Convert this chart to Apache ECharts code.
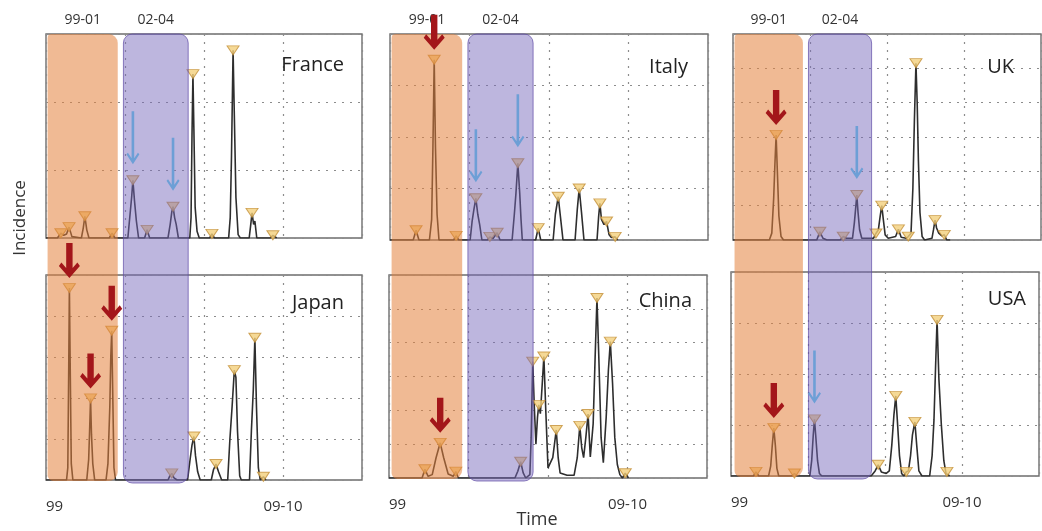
<!DOCTYPE html>
<html lang="en">
<head>
    <meta charset="UTF-8">
    <script type="text/javascript" src="https://cdn.jsdelivr.net/npm/echarts@6/dist/echarts.min.js"></script>
    <title>Incidence</title>
    <style>
        html, body {margin: 0; padding: 0; background: #fff;}
        #main {width: 1042px; height: 531px;}
    </style>
</head>
<body>
<div id="main"></div>
<script type="text/javascript">

    // time runs 0..100 across every panel, values in grid units
    var timeLabels = {0: '99', 75: '09-10'};
    var bandNames = ['99-01', '02-04'];
    var bandRanges = [[0.5, 22.7], [24.5, 45]];

    var franceCurve = [[0,0],[3.6,0],[4.7,0.07],[5.6,0.04],[6.5,0.06],[7.3,0.16],[8.2,0.02],[11.2,0],[11.8,0.15],[12.3,0.32],[12.9,0.12],[13.6,0],[20.0,0],[20.9,0.07],[21.8,0],[25.9,0],[26.6,0.35],[27.1,0.6],[27.5,0.85],[28.0,0.55],[28.6,0.25],[29.3,0],[31.2,0],[32,0.12],[32.8,0],[38.6,0],[39.3,0.2],[39.8,0.38],[40.2,0.46],[40.7,0.3],[41.2,0.2],[41.9,0],[45.5,0],[45.9,0.3],[46.2,1.5],[46.5,2.41],[46.8,1.6],[47.2,0.45],[47.8,0.1],[48.5,0],[51.8,0],[52.5,0.06],[53.3,0],[57.8,0],[58.3,0.3],[58.7,1.2],[59.2,2.76],[59.6,1.8],[60.1,0.6],[60.8,0.05],[61.5,0],[64.3,0],[64.8,0.2],[65.2,0.37],[65.7,0.2],[66.1,0.25],[66.7,0],[71,0],[71.8,0.04],[73,0]];
    var franceMarks = [4.7, 7.3, 12.3, 20.9, 27.5, 32, 40.2, 46.5, 52.5, 59.2, 65.2, 71.8];
    var franceRed = [];
    var franceBlue = [27.5, 40.2];

    var japanCurve = [[0,0],[6.5,0],[6.9,0.3],[7.2,2.8],[7.4,4.68],[7.7,2.5],[8.0,0.4],[8.5,0],[12.9,0],[13.5,0.5],[13.8,1.2],[14.1,1.99],[14.4,1.1],[14.8,0.4],[15.4,0],[19,0],[19.6,0.4],[20.2,1.8],[20.5,3.0],[20.8,3.64],[21.1,2.2],[21.5,0.3],[22,0],[38.6,0],[39.2,0.1],[39.8,0.16],[40.5,0.05],[41.5,0],[44.8,0],[45.6,0.5],[46.2,0.85],[46.8,1.06],[47.3,0.6],[48,0.2],[48.8,0],[52.3,0],[53.0,0.25],[53.8,0.39],[54.6,0.2],[55.6,0],[57.5,0],[58.2,1.0],[58.9,1.8],[59.6,2.68],[60.1,2.5],[60.6,1.2],[61.3,0.1],[61.8,0],[64.4,0],[65.0,1.2],[65.6,2.2],[66.1,3.47],[66.6,1.8],[67.2,0.3],[67.8,0],[68.8,0.08],[69.6,0]];
    var japanMarks = [7.4, 14.1, 20.8, 39.8, 46.8, 53.8, 59.6, 66.1, 68.8];
    var japanRed = [7.4, 14.1, 20.8];
    var japanBlue = [];

    var italyCurve = [[0,0],[7.3,0],[8.2,0.19],[9.1,0],[12.4,0],[13.1,0.4],[13.5,1.8],[13.9,3.5],[14.3,1.8],[14.8,0.5],[15.4,0],[20,0],[20.8,0.08],[21.6,0],[25.2,0],[25.8,0.35],[26.4,0.6],[27.0,0.81],[27.6,0.5],[28.2,0.3],[28.9,0],[30.6,0],[31.4,0.06],[32.4,0.03],[33.7,0.14],[34.6,0],[38.4,0],[39.1,0.5],[39.6,0.9],[40.2,1.49],[40.8,0.9],[41.2,0.4],[41.6,0],[45.8,0],[46.6,0.23],[47.4,0],[51.3,0],[52.0,0.5],[52.9,0.84],[53.6,0.45],[54.4,0],[58.2,0],[58.9,0.6],[59.5,1.0],[60.2,0.55],[61,0],[65.1,0],[65.6,0.45],[66,0.71],[66.5,0.4],[67.3,0.3],[68.1,0.36],[68.9,0.1],[69.6,0.05],[70.8,0.06],[71.6,0]];
    var italyMarks = [8.2, 13.9, 20.8, 27.0, 31.4, 33.7, 40.2, 46.6, 52.9, 59.5, 66, 68.1, 70.8];
    var italyRed = [13.9];
    var italyBlue = [27.0, 40.2];

    var chinaCurve = [[0,0],[10.4,0],[11.3,0.26],[12.3,0.05],[13.6,0.1],[14.8,0.6],[16.1,1.04],[17.2,0.6],[18.6,0.12],[20.2,0.05],[21.0,0.19],[21.8,0],[39.6,0],[40.5,0.2],[41.4,0.48],[42.2,0.15],[43,0],[44.3,0.1],[44.7,1.2],[45.2,3.44],[45.7,2.1],[46.2,1.0],[46.7,1.8],[47.1,2.16],[47.6,1.9],[48.2,2.8],[48.7,3.59],[49.3,2.0],[50,0.3],[51.5,0.6],[52.6,1.42],[53.2,0.6],[53.8,0.15],[56,0.08],[58.2,0.08],[59.2,0.6],[60,1.54],[60.6,0.9],[61.2,0.6],[61.9,1.2],[62.6,1.89],[63.3,0.62],[64.2,1.6],[64.8,3.5],[65.4,5.32],[66,3.5],[66.7,1.2],[67.4,0.45],[68.3,1.8],[69,3.2],[69.6,4.03],[70.3,2.8],[71,1.2],[71.8,0.4],[72.6,0.1],[73.4,0],[74.3,0.14],[75.3,0]];
    var chinaMarks = [11.3, 16.1, 21.0, 41.4, 45.2, 47.1, 48.7, 52.6, 60, 62.6, 65.4, 69.6, 74.3];
    var chinaRed = [16.1];
    var chinaBlue = [];

    var ukCurve = [[0,0],[11.8,0],[12.6,0.2],[13.2,1.2],[13.6,2.2],[14.0,3.06],[14.4,2.0],[14.9,0.7],[15.6,0.1],[16.4,0],[27.2,0],[28.2,0.24],[29.2,0.05],[30.5,0],[34.8,0],[35.8,0.1],[36.8,0.05],[38.8,0.05],[39.4,0.5],[39.8,0.9],[40.2,1.31],[40.6,0.8],[41.1,0.3],[41.8,0.05],[45.6,0.05],[46.4,0.19],[47.2,0.3],[47.8,0.7],[48.3,1.0],[48.8,0.6],[49.4,0.15],[50.4,0.05],[52.8,0.1],[53.7,0.31],[54.6,0.08],[56.2,0.05],[56.9,0.1],[57.8,0.2],[58.4,1.5],[58.9,3.5],[59.4,5.15],[59.8,4.0],[60.2,2.3],[60.7,0.8],[61.4,0.1],[62.2,0],[64.6,0.05],[65.1,0.3],[65.6,0.58],[66.1,0.35],[66.8,0.2],[67.8,0.12],[68.6,0.15],[69.4,0],[70.5,0]];
    var ukMarks = [14.0, 28.2, 35.8, 40.2, 46.4, 48.3, 53.7, 56.9, 59.4, 65.6, 68.6];
    var ukRed = [14.0];
    var ukBlue = [40.2];

    var usaCurve = [[0,0],[7.3,0],[8.1,0.08],[9,0],[12.2,0],[12.9,0.2],[13.4,0.6],[13.9,0.94],[14.4,0.6],[14.9,0.15],[15.5,0],[19.8,0],[20.6,0.05],[21.4,0],[25.6,0],[26.2,0.3],[26.7,0.8],[27.1,1.11],[27.5,0.8],[28.1,0.3],[28.7,0.05],[29.5,0],[45.5,0],[46.8,0.1],[47.8,0.22],[48.8,0.08],[50.4,0.05],[51.4,0.1],[52.2,0.6],[52.9,1.2],[53.5,1.57],[54.0,1.1],[54.7,0.4],[55.4,0.05],[56.1,0],[56.9,0.08],[57.6,0.1],[58.3,0.4],[58.9,0.8],[59.7,1.06],[60.3,0.6],[61,0.1],[62,0],[64.5,0],[65.3,0.4],[65.9,1.1],[66.4,2.1],[66.9,3.06],[67.5,1.9],[68.3,1.0],[69.1,0.3],[69.8,0.05],[70.1,0.08],[71,0]];
    var usaMarks = [8.1, 13.9, 20.6, 27.1, 47.8, 53.5, 56.9, 59.7, 66.9, 70.1];
    var usaRed = [13.9];
    var usaBlue = [27.1];

    // layout of the six boxes (column by column, top then bottom)
    var panels = [
        {name: 'France', curve: franceCurve, marks: franceMarks, red: franceRed, blue: franceBlue, yMax: 3, box: [46, 34, 316, 204], label: [344, 65], bottom: false},
        {name: 'Japan', curve: japanCurve, marks: japanMarks, red: japanRed, blue: japanBlue, yMax: 5, box: [46, 275, 316, 205], label: [344, 303], bottom: true},
        {name: 'Italy', curve: italyCurve, marks: italyMarks, red: italyRed, blue: italyBlue, yMax: 4, box: [390, 34, 318, 206], label: [688, 67], bottom: false},
        {name: 'China', curve: chinaCurve, marks: chinaMarks, red: chinaRed, blue: chinaBlue, yMax: 6, box: [389, 275, 318, 203], label: [692, 301], bottom: true},
        {name: 'UK', curve: ukCurve, marks: ukMarks, red: ukRed, blue: ukBlue, yMax: 6, box: [733, 34, 308, 206], label: [1014, 67], bottom: false},
        {name: 'USA', curve: usaCurve, marks: usaMarks, red: usaRed, blue: usaBlue, yMax: 4, box: [731, 272, 310, 204], label: [1026, 299], bottom: true}
    ];

    var FONT = '"Open Sans", "Liberation Sans", sans-serif';
    var dotted = {type: [2, 6], width: 1.2, color: '#8c8c8c'};

    function valueAt(curve, t) {
        for (var k = 0; k < curve.length; k++) {
            if (curve[k][0] === t) return curve[k][1];
        }
        return 0;
    }

    var grids = [], xAxes = [], yAxes = [], series = [];
    panels.forEach(function (p, i) {
        grids.push({
            left: p.box[0], top: p.box[1], width: p.box[2], height: p.box[3],
            show: true, borderColor: '#6e6e6e', borderWidth: 1.4, backgroundColor: '#fff'
        });
        xAxes.push({
            type: 'value', gridIndex: i, min: 0, max: 100, interval: 25,
            axisLine: {show: false}, axisTick: {show: false},
            splitLine: {show: true, lineStyle: dotted},
            axisLabel: {
                show: p.bottom, margin: 19, fontSize: 15, color: '#333', fontFamily: FONT,
                alignMinLabel: 'left',
                formatter: function (v) { return timeLabels[v] || ''; }
            }
        });
        yAxes.push({
            type: 'value', gridIndex: i, min: 0, max: p.yMax, interval: 1,
            axisLine: {show: false}, axisTick: {show: false}, axisLabel: {show: false},
            splitLine: {show: true, lineStyle: dotted}
        });
        series.push({
            type: 'line', xAxisIndex: i, yAxisIndex: i, data: p.curve,
            showSymbol: false, symbol: 'none', z: 2,
            lineStyle: {color: '#2e2e2e', width: 1.6}
        });
        series.push({
            type: 'scatter', xAxisIndex: i, yAxisIndex: i, z: 3,
            data: p.marks.map(function (t) { return [t, valueAt(p.curve, t)]; }),
            symbol: 'triangle', symbolRotate: 180, symbolSize: [12, 9],
            itemStyle: {color: '#f2d07c', borderColor: '#c4913a', borderWidth: 1}
        });
    });

    var myChart = echarts.init(document.getElementById('main'));
    myChart.setOption({
        animation: false,
        backgroundColor: '#fff',
        grid: grids,
        xAxis: xAxes,
        yAxis: yAxes,
        series: series
    });

    // bands, arrows and texts sit over the plot
    var graphics = [];
    var bandFill = ['rgba(228,130,60,0.55)', 'rgba(118,102,186,0.48)'];
    var bandStroke = [null, 'rgba(95,75,165,0.7)'];

    for (var c = 0; c < 3; c++) {
        var up = 2 * c, low = 2 * c + 1;
        var yTop = myChart.convertToPixel({gridIndex: up}, [0, panels[up].yMax])[1];
        var yBot = myChart.convertToPixel({gridIndex: low}, [0, 0])[1];
        bandRanges.forEach(function (r, b) {
            var x0 = myChart.convertToPixel({gridIndex: up}, [r[0], 0])[0];
            var x1 = myChart.convertToPixel({gridIndex: up}, [r[1], 0])[0];
            graphics.push({
                type: 'rect', z: 10,
                shape: {x: x0, y: yTop, width: x1 - x0, height: yBot - yTop + (b ? 3 : 1), r: b ? 9 : [4, 9, 9, 6]},
                style: {fill: bandFill[b], stroke: bandStroke[b], lineWidth: 1}
            });
            graphics.push({
                type: 'text', z: 12, x: (x0 + x1) / 2, y: 20,
                style: {text: bandNames[b], fontSize: 14, fontFamily: FONT, fill: '#333', align: 'center', verticalAlign: 'middle'}
            });
        });
    }

    function arrow(x, y, big) {
        var pts = big
            ? [[0,0],[10.5,-12],[8,-15.5],[3.2,-10],[3.2,-35],[-3.2,-35],[-3.2,-10],[-8,-15.5],[-10.5,-12]]
            : [[0,0],[6.5,-10],[5,-11.5],[1.3,-6],[1.3,-53],[-1.3,-53],[-1.3,-6],[-5,-11.5],[-6.5,-10]];
        return {
            type: 'polygon', z: 20,
            shape: {points: pts.map(function (q) { return [x + q[0], y + q[1]]; })},
            style: {fill: big ? '#a3161a' : '#6d9fd6'}
        };
    }

    panels.forEach(function (p, i) {
        p.red.forEach(function (t) {
            var px = myChart.convertToPixel({gridIndex: i}, [t, valueAt(p.curve, t)]);
            graphics.push(arrow(px[0], px[1] - 10, true));
        });
        p.blue.forEach(function (t) {
            var px = myChart.convertToPixel({gridIndex: i}, [t, valueAt(p.curve, t)]);
            graphics.push(arrow(px[0], px[1] - 16, false));
        });
        graphics.push({
            type: 'text', z: 12, x: p.label[0], y: p.label[1],
            style: {text: p.name, fontSize: 20, fontFamily: FONT, fill: '#222', align: 'right', verticalAlign: 'middle'}
        });
    });

    graphics.push({
        type: 'text', z: 12, x: 537, y: 520,
        style: {text: 'Time', fontSize: 18, fontFamily: FONT, fill: '#333', align: 'center', verticalAlign: 'middle'}
    });
    graphics.push({
        type: 'text', z: 12, x: 20, y: 218, rotation: Math.PI / 2,
        style: {text: 'Incidence', fontSize: 17, fontFamily: FONT, fill: '#333', align: 'center', verticalAlign: 'middle'}
    });

    myChart.setOption({graphic: graphics});
</script>
</body>
</html>
